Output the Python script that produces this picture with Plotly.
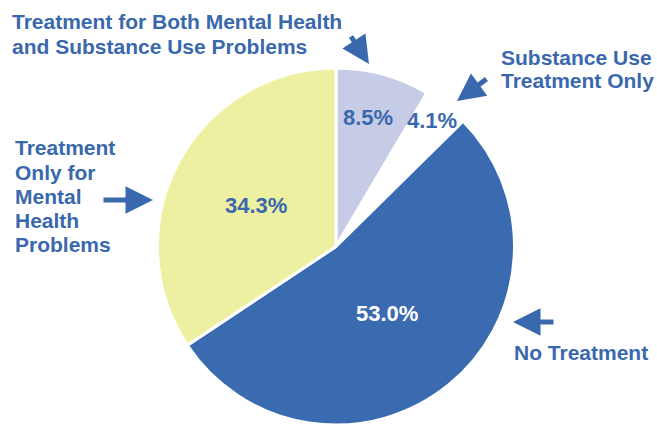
import math
import plotly.graph_objects as go

W, H = 657, 425

# ---- data ----
categories = ["Treatment for Both Mental Health and Substance Use Problems",
              "Substance Use Treatment Only",
              "No Treatment",
              "Treatment Only for Mental Health Problems"]
values = [8.5, 4.1, 53.0, 34.3]
slice_colors = ["#c7cce6", "#ffffff", "#3a6bb0", "#eef0a1"]
pct_colors = ["#3a68ad", "#3a68ad", "#ffffff", "#3a68ad"]
pct_radius_frac = [0.75, 0.90, 0.48, 0.49]

label_lines = [
    ["Treatment for Both Mental Health", "and Substance Use Problems"],
    ["Substance Use", "Treatment Only"],
    ["No Treatment"],
    ["Treatment", "Only for", "Mental", "Health", "Problems"],
]

# ---- geometry (pixels) ----
cx, cy, R = 336, 247, 179
BLUE = "#3a68ad"
FONT = "Arial, Liberation Sans, sans-serif"

def px(x):
    return x / W

def py(y):
    return 1 - y / H

fig = go.Figure(go.Pie(
    labels=categories, values=values, sort=False, direction="clockwise",
    rotation=0, textinfo="none", hoverinfo="label+value",
    marker=dict(colors=slice_colors, line=dict(color="white", width=3)),
    domain=dict(x=[px(cx - R), px(cx + R)], y=[max(0, py(cy + R)), py(cy - R)]),
    showlegend=False,
))

ann = []
total = sum(values)
cum = 0.0
for v, col, rf in zip(values, pct_colors, pct_radius_frac):
    mid = (cum + v / 2) / total * 2 * math.pi
    cum += v
    x = cx + rf * R * math.sin(mid) - 3
    y = cy - rf * R * math.cos(mid)
    ann.append(dict(x=px(x), y=py(y), xref="paper", yref="paper",
                    text=f"<b>{v:.1f}%</b>", showarrow=False,
                    font=dict(family=FONT, size=22, color=col),
                    xanchor="center", yanchor="middle"))

# label text blocks: (left x, list of line center y)
label_pos = [
    (10, [21, 46]),
    (499, [57, 81]),
    (512, [352]),
    (13, [147, 172, 196, 220, 245]),
]
for lines, (lx, ys) in zip(label_lines, label_pos):
    for t, ly in zip(lines, ys):
        ann.append(dict(x=px(lx), y=py(ly), xref="paper", yref="paper",
                        text=f"<b>{t}</b>", showarrow=False,
                        font=dict(family=FONT, size=21, color=BLUE),
                        xanchor="left", yanchor="middle"))

# arrows: (head x, head y, tail dx, tail dy) in pixels
arrows = [
    (369, 64, -19, -29),
    (457, 101, 31, -23),
    (153, 200, -51, 0),
    (513, 322, 42, 0),
]
for hx, hy, dx, dy in arrows:
    ann.append(dict(x=px(hx), y=py(hy), xref="paper", yref="paper",
                    ax=dx, ay=dy, axref="pixel", ayref="pixel",
                    text="", showarrow=True, arrowhead=2, arrowsize=1.1,
                    arrowwidth=5, arrowcolor=BLUE))

fig.update_layout(width=W, height=H, margin=dict(l=0, r=0, t=0, b=0),
                  paper_bgcolor="white", plot_bgcolor="white",
                  annotations=ann)
fig.write_html("out.html", config={"displayModeBar": False},
               post_script="document.body.style.margin='0';document.body.style.overflow='hidden';")
